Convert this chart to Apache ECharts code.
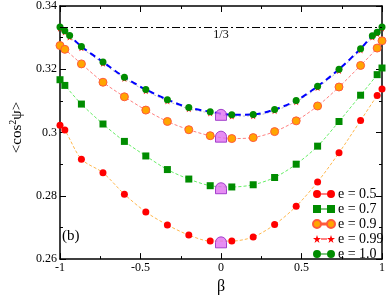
<!DOCTYPE html>
<html><head><meta charset="utf-8">
<script src="https://cdn.jsdelivr.net/npm/echarts@6/dist/echarts.min.js"></script>
<style>html,body{margin:0;padding:0;background:#fff}#c{width:388px;height:300px}</style>
</head><body><div id="c"></div>
<script>
// beta grid for e = 0.5, 0.7, 0.9
const betaA = [-1, -0.97, -0.867, -0.733, -0.6, -0.467, -0.333, -0.2, -0.067, 0.067, 0.2, 0.333, 0.467, 0.6, 0.733, 0.867, 0.97, 1];
// beta grid for e = 0.99, 1.0
const betaB = [-1, -0.97, -0.94, -0.867, -0.733, -0.6, -0.467, -0.333, -0.2, -0.067, 0.067, 0.2, 0.333, 0.467, 0.6, 0.733, 0.867, 0.94, 0.97, 1];
const e05 = [0.3023, 0.3008, 0.2916, 0.2873, 0.2805, 0.2749, 0.2708, 0.2676, 0.2657, 0.2657, 0.2670, 0.2709, 0.2767, 0.2844, 0.2936, 0.3038, 0.3117, 0.3138];
const e07 = [0.3167, 0.3149, 0.3090, 0.3027, 0.2972, 0.2926, 0.2883, 0.2853, 0.2832, 0.2828, 0.2835, 0.2858, 0.2900, 0.2957, 0.3035, 0.3118, 0.3183, 0.3204];
const e09 = [0.3275, 0.3263, 0.3217, 0.3159, 0.3113, 0.3071, 0.3035, 0.3009, 0.2990, 0.2981, 0.2984, 0.3003, 0.3037, 0.3084, 0.3144, 0.3212, 0.3267, 0.3290];
const e099 = [0.3330, 0.3318, 0.3302, 0.3268, 0.3219, 0.3171, 0.3132, 0.3100, 0.3075, 0.3062, 0.3052, 0.3053, 0.3069, 0.3097, 0.3142, 0.3196, 0.3261, 0.3302, 0.3313, 0.3330];
const e10 = [0.3334, 0.3322, 0.3307, 0.3272, 0.3223, 0.3175, 0.3136, 0.3104, 0.3079, 0.3066, 0.3056, 0.3057, 0.3073, 0.3101, 0.3146, 0.3200, 0.3265, 0.3306, 0.3317, 0.3334];
// special points at beta = 0
const betaZero = [0, 0, 0, 0];
const zeroVals = [0.2653, 0.2824, 0.2987, 0.3056];
const oneThird = 1 / 3;
const seriesNames = ['e = 0.5', 'e = 0.7', 'e = 0.9', 'e = 0.99', 'e = 1.0'];

const F = "'Liberation Serif','DejaVu Serif',serif";
const pair = (xs, ys) => xs.map((x, i) => [x, ys[i]]);
const STAR = 'path://M5,0 L6.2,3.6 L10,3.6 L6.9,5.9 L8.1,9.5 L5,7.3 L1.9,9.5 L3.1,5.9 L0,3.6 L3.8,3.6 Z';
const DOME = 'path://M0,10 L0,5 A5,5 0 0 1 10,5 L10,10 Z';
const LC = 'path://M0,4 A4,4 0 1 1 8,4 A4,4 0 1 1 0,4 Z M8,3.4 L14,3.4 L14,4.6 L8,4.6 Z M14,4 A4,4 0 1 1 22,4 A4,4 0 1 1 14,4 Z';
const LS = 'path://M0,0 L8,0 L8,8 L0,8 Z M8,3.4 L14,3.4 L14,4.6 L8,4.6 Z M14,0 L22,0 L22,8 L14,8 Z';
const LSTAR = 'path://M4,0 L5,3 L8,3 L5.5,5 L6.5,8 L4,6 L1.5,8 L2.5,5 L0,3 L3,3 Z M8,3.6 L14,3.6 L14,4.4 L8,4.4 Z M18,0 L19,3 L22,3 L19.5,5 L20.5,8 L18,6 L15.5,8 L16.5,5 L14,3 L17,3 Z';

const axisCommon = {
  type: 'value',
  axisLine: {show: true, onZero: false, lineStyle: {color: '#000', width: 1.5}},
  axisTick: {show: true, inside: true, length: 6, lineStyle: {color: '#000', width: 1}},
  minorTick: {show: true, splitNumber: 2, length: 3, lineStyle: {color: '#000', width: 1}},
  splitLine: {show: false}
};

const chart = echarts.init(document.getElementById('c'));
chart.setOption({
  animation: false,
  backgroundColor: '#fff',
  grid: {left: 49, right: 4, top: 5, bottom: 32},
  xAxis: [
    Object.assign({}, axisCommon, {min: -1, max: 1, interval: 0.5, position: 'bottom',
      name: 'β', nameLocation: 'middle', nameGap: 19,
      nameTextStyle: {fontFamily: F, fontSize: 16, color: '#000'},
      axisLabel: {fontFamily: F, fontSize: 12, color: '#000', margin: 3}}),
    Object.assign({}, axisCommon, {min: -1, max: 1, interval: 0.5, position: 'top', axisLabel: {show: false}})
  ],
  yAxis: [
    Object.assign({}, axisCommon, {min: 0.26, max: 0.34, interval: 0.02, position: 'left',
      name: '<cos{sup|2}ψ>', nameLocation: 'middle', nameGap: 34, nameRotate: 90,
      nameTextStyle: {fontFamily: F, fontSize: 15, color: '#000', padding: [0, 0, 0, 10],
        rich: {sup: {fontFamily: F, fontSize: 10, verticalAlign: 'top', padding: [0, 0, 8, 0]}}},
      axisLabel: {fontFamily: F, fontSize: 12, color: '#000', margin: 3,
        formatter: v => String(+v.toFixed(2))}}),
    Object.assign({}, axisCommon, {min: 0.26, max: 0.34, interval: 0.02, position: 'right', axisLabel: {show: false}})
  ],
  legend: {
    orient: 'vertical', left: 312, top: 187, itemWidth: 22, itemHeight: 8, itemGap: 1, padding: 0,
    textStyle: {fontFamily: F, fontSize: 14, lineHeight: 12, color: '#000', padding: [0, 0, 0, -2]},
    data: [
      {name: seriesNames[0], icon: LC},
      {name: seriesNames[1], icon: LS},
      {name: seriesNames[2], icon: LC},
      {name: seriesNames[3], icon: LSTAR},
      {name: seriesNames[4], icon: LC}
    ]
  },
  graphic: [{type: 'text', left: 62, top: 229, style: {text: '(b)', font: '15px ' + F, fill: '#000'}}],
  series: [
    {name: seriesNames[0], type: 'line', smooth: 0.3, data: pair(betaA, e05), symbol: 'circle', symbolSize: 7,
      itemStyle: {color: '#ff0000'}, lineStyle: {color: '#ffb84d', width: 1, type: [3, 2]}},
    {name: seriesNames[1], type: 'line', smooth: 0.3, data: pair(betaA, e07), symbol: 'rect', symbolSize: 7,
      itemStyle: {color: '#008c00'}, lineStyle: {color: '#66ee66', width: 1, type: [3, 2]}},
    {name: seriesNames[2], type: 'line', smooth: 0.3, data: pair(betaA, e09), symbol: 'circle', symbolSize: 8,
      itemStyle: {color: '#ffa500', borderColor: '#ff5a3c', borderWidth: 1}, lineStyle: {color: '#ff8080', width: 1, type: [3, 2]}},
    {name: seriesNames[3], type: 'line', smooth: 0.3, data: pair(betaB, e099), symbol: STAR, symbolSize: 7,
      itemStyle: {color: '#ff0000'}, lineStyle: {color: '#c0c0c0', width: 1, type: [2, 2]}},
    {name: seriesNames[4], type: 'line', smooth: 0.3, data: pair(betaB, e10), symbol: 'circle', symbolSize: 7,
      itemStyle: {color: '#008c00'}, lineStyle: {color: '#0000ff', width: 2, type: [6, 4]},
      markLine: {silent: true, symbol: 'none', precision: 6,
        data: [[{coord: [-1, oneThird]}, {coord: [1, oneThird]}]],
        lineStyle: {color: '#000', width: 1, type: [8, 3, 2, 3]},
        label: {show: true, position: 'insideMiddleBottom', formatter: '1/3', fontFamily: F, fontSize: 12, color: '#000', distance: 2}}},
    {name: 'beta0', type: 'scatter', data: pair(betaZero, zeroVals), symbol: DOME, symbolSize: 11,
      itemStyle: {color: '#e070f0', borderColor: '#9020c0', borderWidth: 1,
        decal: {symbol: 'rect', symbolSize: 1, dashArrayX: [1, 1], dashArrayY: [4, 0], color: '#9020c0'}}, z: 5}
  ]
});
</script></body></html>
